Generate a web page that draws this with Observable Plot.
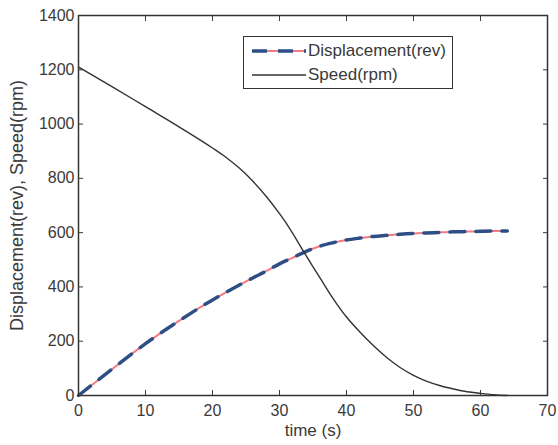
<!DOCTYPE html>
<html>
<head>
<meta charset="utf-8">
<script src="https://cdn.jsdelivr.net/npm/d3@7"></script>
<script src="https://cdn.jsdelivr.net/npm/@observablehq/plot@0.6"></script>
<style>
  html, body { margin: 0; padding: 0; background: #fff; }
  #wrap { position: relative; width: 558px; height: 445px; font-family: "Liberation Sans", Arial, sans-serif; }
  #legend { position: absolute; left: 243px; top: 36px; width: 210px; height: 53px; border: 1.3px solid #333; background: #fff; box-sizing: border-box; }
  #legend .row { position: absolute; left: 0; height: 22px; display: flex; align-items: center; }
  #legend .row span { font-size: 17px; color: #3a3a3a; margin-left: 2px; white-space: nowrap; }
</style>
</head>
<body>
<div id="wrap"></div>
<script>
// ---- data ----
const time = [0, 5, 10, 15, 20, 22, 24, 26, 28, 30, 31, 32, 33, 34, 35, 36, 38, 40, 42, 44, 46, 48, 50, 52, 54, 56, 58, 60, 62, 64];
const displacement = [0, 97, 191, 275, 352, 380, 407, 433, 458, 485, 497, 508, 520, 531, 541, 550, 563, 573, 580, 586, 590, 594, 597, 599, 601, 603, 604, 605, 606, 606];
const speed = [1210, 1138, 1064, 990, 912, 878, 838, 790, 734, 670, 635, 596, 555, 514, 474, 435, 357, 289, 234, 184, 140, 103, 74, 52, 36, 24, 14, 8, 3, 0];
const xTicks = [0, 10, 20, 30, 40, 50, 60, 70];
const yTicks = [0, 200, 400, 600, 800, 1000, 1200, 1400];
const seriesNames = ["Displacement(rev)", "Speed(rpm)"];

const dispData = time.map((t, i) => ({t, v: displacement[i]}));
const speedData = time.map((t, i) => ({t, v: speed[i]}));

const pink = "#f47a80";
const blue = "#2d4f85";
const dark = "#333";
const fmt = d => String(d);

const chart = Plot.plot({
  width: 558,
  height: 445,
  marginLeft: 78,
  marginRight: 11,
  marginTop: 15,
  marginBottom: 50,
  style: {fontFamily: '"Liberation Sans", Arial, sans-serif', fontSize: "16px", color: "#3a3a3a", background: "#fff"},
  x: {domain: [0, 70]},
  y: {domain: [0, 1400]},
  marks: [
    Plot.axisX({anchor: "bottom", ticks: xTicks, tickFormat: fmt, tickSize: -5, tickPadding: 14, fontSize: 16, label: null}),
    Plot.axisX({anchor: "bottom", ticks: [], label: "time (s)", labelAnchor: "center", labelArrow: "none", labelOffset: 40, fontSize: 17}),
    Plot.axisX({anchor: "top", ticks: xTicks, tickSize: -5, tickFormat: () => "", label: null}),
    Plot.axisY({anchor: "left", ticks: yTicks, tickFormat: fmt, tickSize: -5, tickPadding: 9, fontSize: 16, label: null}),
    Plot.axisY({anchor: "left", ticks: [], label: "Displacement(rev), Speed(rpm)", labelAnchor: "center", labelArrow: "none", labelOffset: 68, fontSize: 18}),
    Plot.axisY({anchor: "right", ticks: yTicks, tickSize: -5, tickFormat: () => "", label: null}),
    Plot.line(dispData, {x: "t", y: "v", stroke: pink, strokeWidth: 2, curve: "monotone-x"}),
    Plot.line(dispData, {x: "t", y: "v", stroke: blue, strokeWidth: 3.5, strokeDasharray: "15,11", curve: "monotone-x"}),
    Plot.line(speedData, {x: "t", y: "v", stroke: dark, strokeWidth: 1.4, curve: "monotone-x"}),
    Plot.frame({stroke: dark, strokeWidth: 1.5})
  ]
});

const wrap = document.getElementById("wrap");
wrap.appendChild(chart);

// legend
const legend = document.createElement("div");
legend.id = "legend";
const rows = [
  {name: seriesNames[0], top: 3, draw: (s) => {
    s.append("line").attr("x1", 0).attr("x2", 54).attr("y1", 11).attr("y2", 11).attr("stroke", pink).attr("stroke-width", 2);
    s.append("line").attr("x1", 0).attr("x2", 54).attr("y1", 11).attr("y2", 11).attr("stroke", blue).attr("stroke-width", 3.5).attr("stroke-dasharray", "15,11");
  }},
  {name: seriesNames[1], top: 27, draw: (s) => {
    s.append("line").attr("x1", 0).attr("x2", 54).attr("y1", 11).attr("y2", 11).attr("stroke", dark).attr("stroke-width", 1.4);
  }}
];
rows.forEach(r => {
  const row = document.createElement("div");
  row.className = "row";
  row.style.top = r.top + "px";
  row.style.left = "8px";
  const svg = d3.create("svg").attr("width", 54).attr("height", 22);
  r.draw(svg);
  row.appendChild(svg.node());
  const span = document.createElement("span");
  span.textContent = r.name;
  row.appendChild(span);
  legend.appendChild(row);
});
wrap.appendChild(legend);
</script>
</body>
</html>
